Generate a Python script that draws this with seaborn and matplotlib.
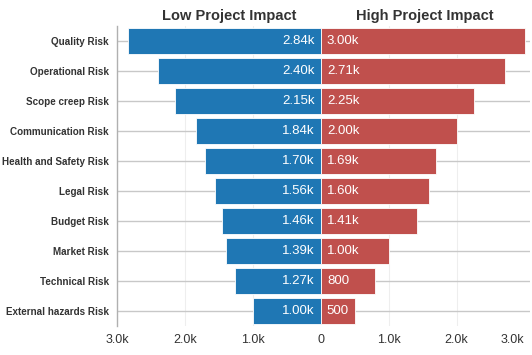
import matplotlib.pyplot as plt
import pandas as pd
import seaborn as sns

categories = ["Quality Risk", "Operational Risk", "Scope creep Risk", "Communication Risk",
              "Health and Safety Risk", "Legal Risk", "Budget Risk", "Market Risk",
              "Technical Risk", "External hazards Risk"]
low_impact = [2840, 2400, 2150, 1840, 1700, 1560, 1460, 1390, 1270, 1000]
high_impact = [3000, 2710, 2250, 2000, 1690, 1600, 1410, 1000, 800, 500]
ticks = [-3000, -2000, -1000, 0, 1000, 2000, 3000]

blue = "#1f77b4"
red = "#c0504d"
font = ["Liberation Sans", "DejaVu Sans"]


def fmt(v):
    v = abs(v)
    if v >= 1000:
        return "%.2fk" % (v / 1000)
    return "%d" % v


def tick_fmt(v):
    v = abs(v)
    if v == 0:
        return "0"
    return "%.1fk" % (v / 1000)


def main():
    sns.set_style("white")
    plt.rcParams["font.family"] = font

    df = pd.DataFrame({"risk": categories,
                       "low": [-v for v in low_impact],
                       "high": high_impact})

    fig = plt.figure(figsize=(5.32, 3.55), dpi=100)
    ax = fig.add_axes([117 / 532, 1 - 326 / 355, (530 - 117) / 532, 300 / 355])

    sns.barplot(data=df, x="low", y="risk", color=blue, saturation=1, width=0.87,
                edgecolor="white", linewidth=0.6, ax=ax, zorder=3)
    sns.barplot(data=df, x="high", y="risk", color=red, saturation=1, width=0.87,
                edgecolor="white", linewidth=0.6, ax=ax, zorder=3)

    ax.set_xlim(-3000, 3080)
    ax.set_ylim(9.5, -0.5)
    ax.set_xlabel("")
    ax.set_ylabel("")

    # gridlines: category lines and faint value lines
    for i in range(len(categories)):
        ax.axhline(i, color="#c8c8c8", lw=1, zorder=1)
    for t in [-2000, -1000, 1000, 2000]:
        ax.axvline(t, color="#eeeeee", lw=0.8, zorder=0)

    for i, (lo, hi) in enumerate(zip(low_impact, high_impact)):
        ax.text(-90, i, fmt(lo), ha="right", va="center", color="white",
                fontsize=9.5, zorder=4)
        ax.text(90, i, fmt(hi), ha="left", va="center", color="white",
                fontsize=9.5, zorder=4)

    ax.set_xticks(ticks)
    ax.set_xticklabels([tick_fmt(t) for t in ticks], fontsize=9, color="#333333")
    ax.get_xticklabels()[-1].set_horizontalalignment("right")
    ax.set_yticks(range(len(categories)))
    ax.set_yticklabels(categories, fontsize=7.1, fontweight="bold", color="#333333")
    ax.tick_params(axis="y", length=5, color="#c8c8c8", width=1, pad=1)
    ax.tick_params(axis="x", length=0, pad=6)

    for s in ["top", "right", "bottom"]:
        ax.spines[s].set_visible(False)
    ax.spines["left"].set_color("#b0b0b0")
    ax.spines["left"].set_linewidth(1)

    fig.text(229 / 532, 1 - 16 / 355, "Low Project Impact", ha="center", va="center",
             fontsize=10.5, fontweight="bold", color="#333333")
    fig.text(425 / 532, 1 - 16 / 355, "High Project Impact", ha="center", va="center",
             fontsize=10.5, fontweight="bold", color="#333333")

    fig.savefig("out.png", dpi=100)


if __name__ == "__main__":
    main()
